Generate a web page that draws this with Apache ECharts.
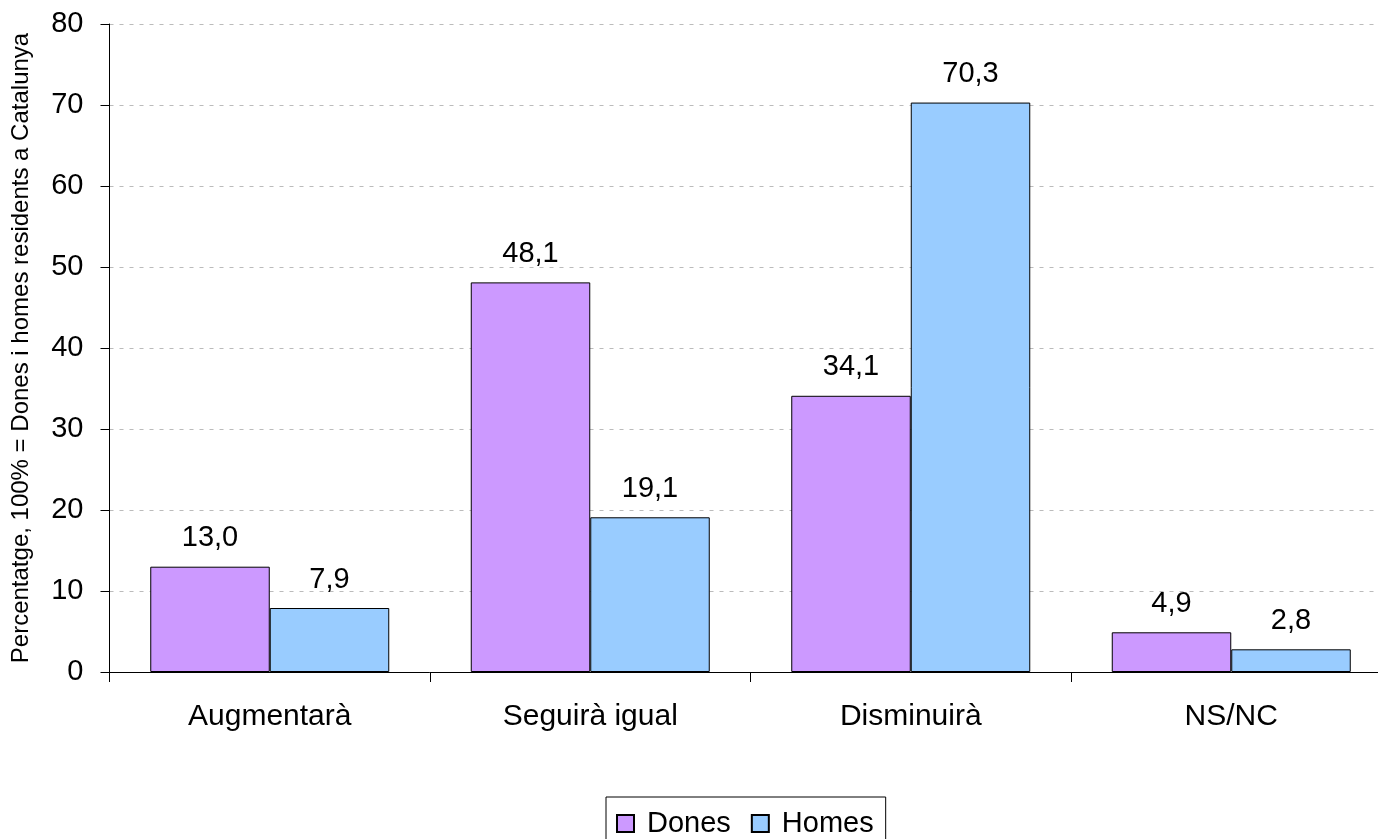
<!DOCTYPE html>
<html><head><meta charset="utf-8">
<script src="https://cdn.jsdelivr.net/npm/echarts@6/dist/echarts.min.js"></script>
<style>html,body{margin:0;padding:0;background:#fff;overflow:hidden;width:1378px;height:839px}#c{width:1392px;height:839px}</style>
</head><body><div id="c"></div>
<script>
const categories = ['Augmentarà', 'Seguirà igual', 'Disminuirà', 'NS/NC'];
const dones = [13.0, 48.1, 34.1, 4.9];
const homes = [7.9, 19.1, 70.3, 2.8];
const seriesNames = ['Dones', 'Homes'];
const yAxisName = 'Percentatge, 100% = Dones i homes residents a Catalunya';

const fmt = p => p.value.toFixed(1).replace('.', ',');
const font = 'Liberation Sans, Arial, sans-serif';
const chart = echarts.init(document.getElementById('c'));
chart.setOption({
  animation: false,
  textStyle: { fontFamily: font },
  grid: { left: 109.5, right: 0.5, top: 24, bottom: 167, containLabel: false },
  legend: {
    top: 797, left: 606,
    data: seriesNames,
    itemWidth: 17, itemHeight: 17, itemGap: 20,
    borderColor: '#000', borderWidth: 1, padding: [12, 12, 10, 10],
    textStyle: { fontSize: 29, color: '#000', fontFamily: font, padding: [0, 0, 0, 8] },
    icon: 'rect'
  },
  xAxis: {
    type: 'category', data: categories,
    axisLine: { lineStyle: { color: '#000', width: 1 } },
    axisTick: { show: true, length: 10, lineStyle: { color: '#000' } },
    axisLabel: { fontSize: 30, color: '#000', margin: 30, fontFamily: font }
  },
  yAxis: {
    type: 'value', min: 0, max: 80, interval: 10,
    name: yAxisName, nameLocation: 'middle', nameGap: 76, nameRotate: 90,
    nameTextStyle: { fontSize: 24, color: '#000', fontFamily: font },
    axisLine: { show: true, lineStyle: { color: '#000' } },
    axisTick: { show: true, length: 9, lineStyle: { color: '#000' } },
    axisLabel: { fontSize: 29, color: '#000', margin: 26, fontFamily: font },
    splitLine: { show: true, lineStyle: { color: '#bbbbbb', type: [4, 6], width: 1 } }
  },
  series: [
    { name: seriesNames[0], type: 'bar', data: dones, barWidth: 119.5, barGap: '0%',
      itemStyle: { color: '#CC99FF', borderColor: '#000', borderWidth: 1 },
      label: { show: true, position: 'top', distance: 14, fontSize: 29, color: '#000', formatter: fmt, fontFamily: font } },
    { name: seriesNames[1], type: 'bar', data: homes, barWidth: 119.5, barGap: '0%',
      itemStyle: { color: '#99CCFF', borderColor: '#000', borderWidth: 1 },
      label: { show: true, position: 'top', distance: 14, fontSize: 29, color: '#000', formatter: fmt, fontFamily: font } }
  ]
});
</script></body></html>
